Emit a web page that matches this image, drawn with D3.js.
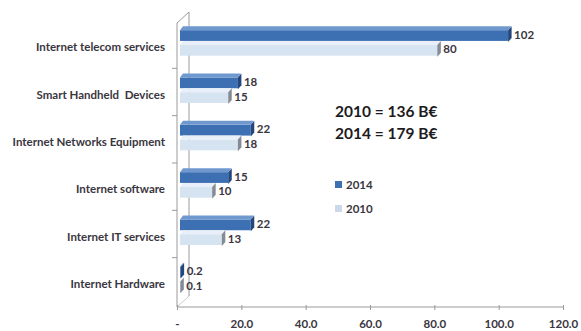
<!DOCTYPE html>
<html>
<head>
<meta charset="utf-8">
<script src="https://cdn.jsdelivr.net/npm/d3@7"></script>
<style>
  html, body { margin: 0; padding: 0; background: #fff; }
  svg { display: block; font-family: Lato, "Open Sans", sans-serif; }
  svg text { white-space: pre; }
</style>
</head>
<body>
<svg id="chart" width="581" height="331"></svg>
<script>
// Market segments (billion euros)
const categories = [
  "Internet telecom services",
  "Smart Handheld  Devices",
  "Internet Networks Equipment",
  "Internet software",
  "Internet IT services",
  "Internet Hardware"
];
const series = ["2014", "2010"];
const values2014 = [102, 18, 22, 15, 22, 0.2];
const values2010 = [80, 15, 18, 10, 13, 0.1];
const valueLabels2014 = ["102", "18", "22", "15", "22", "0.2"];
const valueLabels2010 = ["80", "15", "18", "10", "13", "0.1"];
const xTickValues = [0, 20, 40, 60, 80, 100, 120];
const xTickLabels = ["-", "20.0", "40.0", "60.0", "80.0", "100.0", "120.0"];
const totals = ["2010 = 136 B\u20AC", "2014 = 179 B\u20AC"];

const svg = d3.select("#chart");

// Front plane of the 3D frame
const x = d3.scaleLinear().domain([0, 120]).range([177, 563]);
const y = d3.scaleBand().domain(categories).range([23, 307]);
const ySeries = d3.scaleBand().domain(series).range([-20.5, 9]);

// Depth offsets: bars sit slightly behind the front plane, the wall further back
const barDx = 3;
const wallDx = 12, wallDy = -11;
const topDepth = 3, topH = 4, capW = 3.5;

const style = {
  "2014": { front: "#3d6fb3", top: "#6f98cf", cap: "#23477c", key: "#3d6fb3" },
  "2010": { front: "#d6e3f1", top: "#e8eff8", cap: "#858b95", key: "#ccd9ea" }
};

const axisColor = "#9a9a9a";
const labelColor = "#3a3640";
const yTop = y.range()[0], yBot = y.range()[1];

// Back wall edge and the frame's side edges
const frame = svg.append("g").attr("stroke", axisColor).attr("fill", "none");
frame.append("line")
  .attr("x1", x(0) + wallDx).attr("x2", x(0) + wallDx)
  .attr("y1", yTop + wallDy).attr("y2", yBot + wallDy);
frame.append("line")
  .attr("x1", x(0)).attr("y1", yTop)
  .attr("x2", x(0) + wallDx).attr("y2", yTop + wallDy);
frame.append("line")
  .attr("x1", x(0)).attr("y1", yBot)
  .attr("x2", x(0) + wallDx).attr("y2", yBot + wallDy)
  .attr("stroke", "#c8c8c8");

// Bars
const rows = categories.map((c, i) => ({
  cat: c,
  bars: [
    { s: "2014", v: values2014[i], label: valueLabels2014[i] },
    { s: "2010", v: values2010[i], label: valueLabels2010[i] }
  ]
}));

const barG = svg.append("g");
rows.forEach(r => {
  const cy = y(r.cat) + y.bandwidth() / 2;
  r.bars.forEach(b => {
    const top = cy + ySeries(b.s);
    const bottom = top + ySeries.bandwidth();
    const x0 = x(0) + barDx;
    const x1 = x(b.v) + barDx;
    const st = style[b.s];
    // front face
    barG.append("rect")
      .attr("x", x0).attr("y", top + topH)
      .attr("width", Math.max(0.5, x1 - x0)).attr("height", bottom - top - topH)
      .attr("fill", st.front);
    // top face
    barG.append("path")
      .attr("d", `M${x0},${top + topH}L${x0 + topDepth},${top}L${x1 + topDepth},${top}L${x1},${top + topH}Z`)
      .attr("fill", st.top);
    // end cap
    barG.append("path")
      .attr("d", `M${x1},${top + topH}L${x1 + capW},${top}L${x1 + capW},${bottom - topH + 1}L${x1},${bottom + 1}Z`)
      .attr("fill", st.cap);
    // value label
    barG.append("text")
      .attr("x", x1 + capW + 2.5)
      .attr("y", (top + bottom) / 2 + 1)
      .attr("dy", "0.35em")
      .attr("font-size", 11.5)
      .attr("font-weight", 700)
      .attr("fill", labelColor)
      .text(b.label);
  });
});

// Left (category) axis
const yAxis = svg.append("g").attr("transform", `translate(${x(0)},1)`)
  .call(d3.axisLeft(y).tickSize(0).tickPadding(12).tickFormat(d => d));
yAxis.select(".domain").remove();
yAxis.selectAll("text")
  .attr("font-family", "Lato, 'Open Sans', sans-serif")
  .attr("font-size", 11.5)
  .attr("font-weight", 700)
  .attr("fill", labelColor);

const leftAxis = svg.append("g").attr("stroke", axisColor);
leftAxis.append("line")
  .attr("x1", x(0)).attr("x2", x(0)).attr("y1", yTop).attr("y2", yBot);
categories.slice(1).forEach(c => {
  leftAxis.append("line")
    .attr("x1", x(0) - 5).attr("x2", x(0))
    .attr("y1", y(c) - 2).attr("y2", y(c) - 2);
});

// Bottom (value) axis
const xAxis = svg.append("g").attr("transform", `translate(0,${yBot})`)
  .call(d3.axisBottom(x).tickValues(xTickValues).tickSize(3).tickPadding(10)
    .tickFormat((d, i) => xTickLabels[i]));
xAxis.select(".domain").attr("stroke", axisColor).attr("d", `M${x(0)},0H${x(120)}`);
xAxis.selectAll(".tick line").attr("stroke", axisColor).attr("y1", -2);
xAxis.selectAll("text")
  .attr("font-family", "Lato, 'Open Sans', sans-serif")
  .attr("font-size", 11.5)
  .attr("font-weight", 700)
  .attr("fill", labelColor);

// Legend
const legend = svg.append("g").attr("transform", "translate(335,181)");
series.forEach((s, i) => {
  const g = legend.append("g").attr("transform", `translate(0,${i * 24})`);
  g.append("rect").attr("width", 7).attr("height", 7).attr("fill", style[s].key);
  g.append("text").attr("x", 11).attr("y", 4).attr("dy", "0.35em")
    .attr("font-size", 11.5).attr("font-weight", 700).attr("fill", labelColor).text(s);
});

// Totals
svg.append("g").selectAll("text").data(totals).join("text")
  .attr("x", 335).attr("y", (d, i) => 117 + i * 22)
  .attr("font-size", 15.5).attr("font-weight", 700).attr("fill", "#1e1b22")
  .text(d => d);
</script>
</body>
</html>
